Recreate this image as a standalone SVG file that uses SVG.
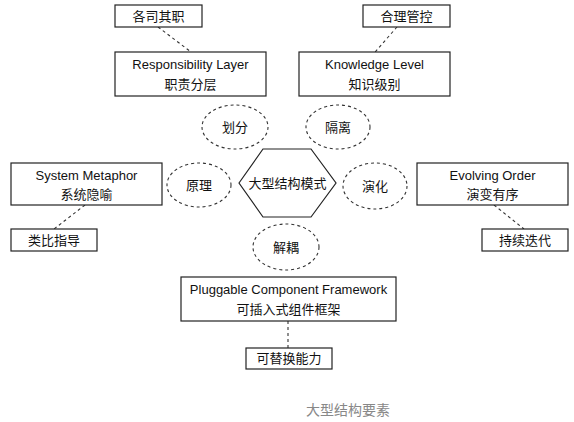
<svg xmlns="http://www.w3.org/2000/svg" width="574" height="422" viewBox="0 0 574 422">
<style>
.box{fill:#fff;stroke:#222;stroke-width:1.2}
.ell{fill:#fff;stroke:#333;stroke-width:1.1;stroke-dasharray:3 3}
.con{stroke:#333;stroke-width:1.1;stroke-dasharray:3 3;fill:none}
text{font-family:"Liberation Sans","Noto Sans CJK SC",sans-serif;font-size:13px;fill:#111;text-anchor:middle}
.cap{fill:#888;font-size:14px}
</style>
<rect width="574" height="422" fill="#fff"/>
<g id="connectors">
<line class="con" x1="158" y1="27" x2="191" y2="52"/>
<line class="con" x1="397" y1="27" x2="375" y2="52"/>
<line class="con" x1="85" y1="205" x2="54" y2="229"/>
<line class="con" x1="494" y1="205" x2="524" y2="229"/>
<line class="con" x1="288" y1="321" x2="288" y2="348"/>
</g>
<g id="n-gesiqizhi"><rect class="box" x="115" y="5" width="87" height="22"/><text x="158.5" y="21">各司其职</text></g>
<g id="n-responsibility"><rect class="box" x="115" y="52" width="151" height="44"/><text x="190.5" y="69">Responsibility Layer</text><text x="190.5" y="89">职责分层</text></g>
<g id="n-heliguankong"><rect class="box" x="363" y="5" width="87" height="22"/><text x="406.5" y="21">合理管控</text></g>
<g id="n-knowledge"><rect class="box" x="299" y="52" width="151" height="44"/><text x="374.5" y="69">Knowledge Level</text><text x="374.5" y="89">知识级别</text></g>
<g id="n-huafen"><ellipse class="ell" cx="235" cy="127" rx="33" ry="22"/><text x="235" y="132">划分</text></g>
<g id="n-geli"><ellipse class="ell" cx="338" cy="127" rx="32" ry="22"/><text x="338" y="132">隔离</text></g>
<g id="n-system"><rect class="box" x="11" y="163" width="151" height="42"/><text x="86.5" y="180">System Metaphor</text><text x="86.5" y="199">系统隐喻</text></g>
<g id="n-leibi"><rect class="box" x="11" y="229" width="86" height="22"/><text x="54" y="245">类比指导</text></g>
<g id="n-yuanli"><ellipse class="ell" cx="199" cy="185" rx="32" ry="22"/><text x="199" y="190">原理</text></g>
<g id="n-center"><polygon class="box" points="239,183 263,149 311,149 336,183 311,217 263,217"/><text x="287.5" y="188">大型结构模式</text></g>
<g id="n-yanhua"><ellipse class="ell" cx="375" cy="186" rx="32" ry="23"/><text x="375" y="191">演化</text></g>
<g id="n-evolving"><rect class="box" x="417" y="163" width="151" height="42"/><text x="492.5" y="180">Evolving Order</text><text x="492.5" y="199">演变有序</text></g>
<g id="n-chixu"><rect class="box" x="482" y="229" width="86" height="22"/><text x="525" y="245">持续迭代</text></g>
<g id="n-jieou"><ellipse class="ell" cx="286" cy="247" rx="33" ry="23"/><text x="286" y="252">解耦</text></g>
<g id="n-pluggable"><rect class="box" x="181" y="277" width="215" height="44"/><text x="288.5" y="294">Pluggable Component Framework</text><text x="288.5" y="314">可插入式组件框架</text></g>
<g id="n-tihuan"><rect class="box" x="246" y="348" width="86" height="21"/><text x="289" y="363">可替换能力</text></g>
<text class="cap" x="348" y="415">大型结构要素</text>
</svg>
